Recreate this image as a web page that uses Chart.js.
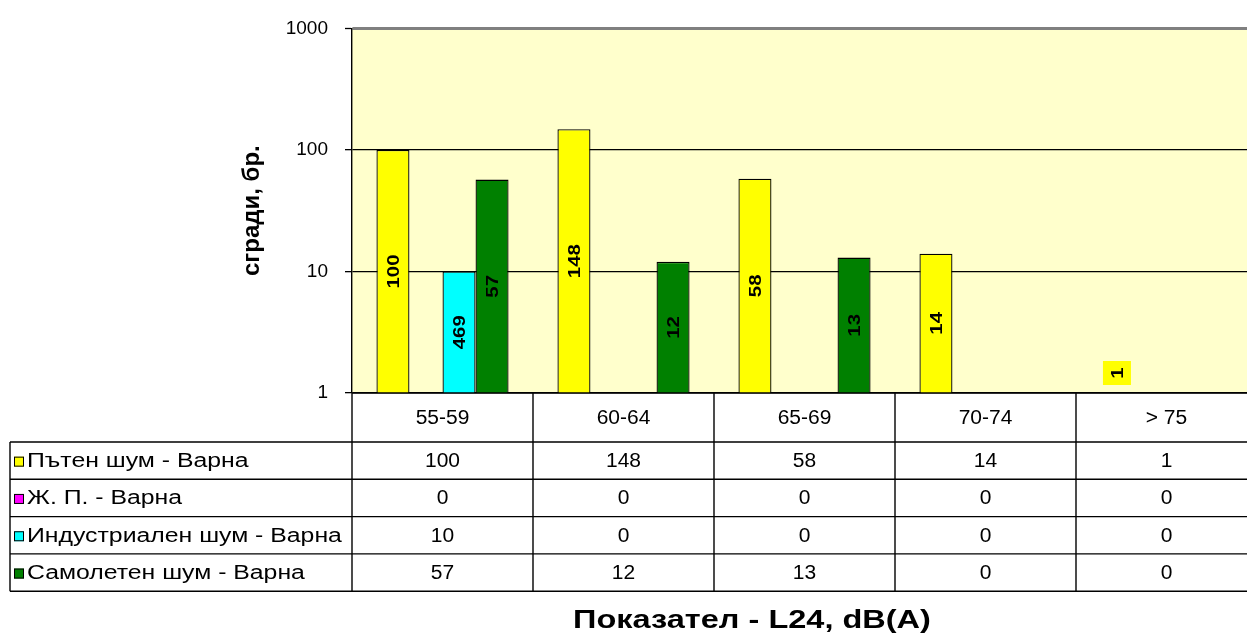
<!DOCTYPE html>
<html>
<head>
<meta charset="utf-8">
<script src="https://cdn.jsdelivr.net/npm/chart.js@4/dist/chart.umd.min.js"></script>
<style>
  html, body { margin: 0; padding: 0; background: #fff; overflow: hidden; }
  #wrap { width: 1257px; height: 638px; }
</style>
</head>
<body>
<div id="wrap"><canvas id="myChart" width="1257" height="638"></canvas></div>
<script>
// данни от графиката
const categories = ['55-59', '60-64', '65-69', '70-74', '> 75']
const seriesNames = ['Пътен шум - Варна', 'Ж. П. - Варна', 'Индустриален шум - Варна', 'Самолетен шум - Варна']
const roadNoise = [100, 148, 58, 14, 1]
const railNoise = [0, 0, 0, 0, 0]
const industrialNoise = [10, 0, 0, 0, 0]
const airNoise = [57, 12, 13, 0, 0]
// етикетът върху синия стълб в оригинала е 469
const industrialBarLabels = ['469', '', '', '', '']
const yTicks = [1, 10, 100, 1000]
const yTitle = 'сгради, бр.'
const xTitle = 'Показател - L24, dB(A)'

const colors = ['#ffff00', '#ff00ff', '#00ffff', '#008000']
const seriesData = [roadNoise, railNoise, industrialNoise, airNoise]
const barLabels = [null, null, industrialBarLabels, null]
const FONT = "'Liberation Sans', Arial, sans-serif"

// текст, разтеглен хоризонтално (шрифтът в оригинала е по-широк)
function wideText(ctx, txt, x, y, sx) {
  ctx.save()
  ctx.translate(x, y)
  ctx.scale(sx, 1)
  ctx.fillText(txt, 0, 0)
  ctx.restore()
}

// фон на полето за графика
const plotBg = {
  id: 'plotBg',
  beforeDraw(chart) {
    const a = chart.chartArea
    const ctx = chart.ctx
    ctx.save()
    ctx.fillStyle = '#ffffcc'
    ctx.fillRect(a.left, a.top, a.right - a.left, a.bottom - a.top)
    ctx.restore()
  }
}

// етикети върху стълбовете (завъртени)
const barText = {
  id: 'barText',
  afterDatasetsDraw(chart) {
    const ctx = chart.ctx
    ctx.save()
    ctx.font = 'bold 17px ' + FONT
    ctx.textAlign = 'center'
    ctx.textBaseline = 'middle'
    seriesData.forEach((vals, i) => {
      const meta = chart.getDatasetMeta(i)
      vals.forEach((v, j) => {
        if (!v) return
        const bar = meta.data[j]
        const txt = barLabels[i] ? barLabels[i][j] : String(v)
        const x = bar.x
        let y = (bar.y + bar.base) / 2
        if (bar.base - bar.y < 30) {
          y = bar.base - 20
          ctx.fillStyle = colors[i]
          ctx.fillRect(x - 14, y - 12, 28, 24)
        }
        ctx.save()
        ctx.translate(x, y)
        ctx.rotate(-Math.PI / 2)
        ctx.fillStyle = '#000'
        wideText(ctx, txt, 0, 1, 1.2)
        ctx.restore()
      })
    })
    ctx.restore()
  }
}

// таблица с данни под графиката
const dataTable = {
  id: 'dataTable',
  afterDraw(chart) {
    const ctx = chart.ctx
    const a = chart.chartArea
    const xs = chart.scales.x
    const colW = (a.right - a.left) / categories.length
    const tableLeft = 10
    const headTop = a.bottom
    const headBottom = 442
    const rowH = 37.3
    const rows = [headBottom]
    for (let r = 1; r <= seriesNames.length; r++) rows.push(headBottom + rowH * r)
    const tableBottom = rows[rows.length - 1]

    ctx.save()
    ctx.strokeStyle = '#000'
    ctx.lineWidth = 1.4
    ctx.beginPath()
    ctx.moveTo(a.left, headTop); ctx.lineTo(chart.width, headTop)
    rows.forEach(y => { ctx.moveTo(tableLeft, y); ctx.lineTo(chart.width, y) })
    ctx.moveTo(tableLeft, headBottom); ctx.lineTo(tableLeft, tableBottom)
    for (let c = 0; c <= categories.length; c++) {
      const x = a.left + c * colW
      ctx.moveTo(x, headTop); ctx.lineTo(x, tableBottom)
    }
    ctx.stroke()

    ctx.fillStyle = '#000'
    ctx.font = '20px ' + FONT
    ctx.textBaseline = 'middle'
    ctx.textAlign = 'center'
    categories.forEach((c, j) => {
      wideText(ctx, c, xs.getPixelForValue(j), (headTop + headBottom) / 2 + 1, 1.05)
    })
    seriesNames.forEach((name, i) => {
      const cy = rows[i] + rowH / 2 + 1
      ctx.fillStyle = colors[i]
      ctx.fillRect(14, cy - 5, 10, 10)
      ctx.strokeStyle = '#000'
      ctx.lineWidth = 1
      ctx.strokeRect(14.5, cy - 4.5, 9, 9)
      ctx.fillStyle = '#000'
      ctx.textAlign = 'left'
      wideText(ctx, name, 27, cy, 1.24)
      ctx.textAlign = 'center'
      seriesData[i].forEach((v, j) => {
        wideText(ctx, String(v), xs.getPixelForValue(j), cy, 1.05)
      })
    })

    // заглавие на оста X
    ctx.font = 'bold 25px ' + FONT
    ctx.textAlign = 'center'
    wideText(ctx, xTitle, 752, 621, 1.3)
    ctx.restore()
  }
}

const ctx = document.getElementById('myChart').getContext('2d')

new Chart(ctx, {
  type: 'bar',
  data: {
    labels: categories,
    datasets: seriesNames.map((name, i) => ({
      label: name,
      data: seriesData[i],
      backgroundColor: colors[i],
      borderColor: '#000',
      borderWidth: 1.3,
      barPercentage: 1,
      categoryPercentage: 0.73
    }))
  },
  options: {
    responsive: false,
    animation: false,
    layout: { padding: { left: 234, top: 25, right: 0, bottom: 245 } },
    plugins: {
      legend: { display: false },
      tooltip: { enabled: false }
    },
    scales: {
      x: {
        display: false
      },
      y: {
        type: 'logarithmic',
        min: 1,
        max: 1000,
        afterBuildTicks(scale) {
          scale.ticks = yTicks.map(v => ({ value: v }))
        },
        afterFit(scale) {
          scale.width = 118
        },
        ticks: {
          color: '#000',
          font: { family: FONT, size: 19 },
          padding: 17,
          callback: v => String(v)
        },
        grid: {
          color: c => (c.tick && c.tick.value === 1000 ? '#808080' : '#000'),
          lineWidth: c => (c.tick && c.tick.value === 1000 ? 3 : 1.3),
          tickColor: '#000',
          tickLength: 7,
          tickWidth: 1.3
        },
        border: { display: true, color: '#000', width: 1.4 },
        title: {
          display: true,
          text: yTitle,
          color: '#000',
          font: { family: FONT, size: 24, weight: 'bold' },
          padding: { top: 4, bottom: 0 }
        }
      }
    }
  },
  plugins: [plotBg, barText, dataTable]
})
</script>
</body>
</html>
